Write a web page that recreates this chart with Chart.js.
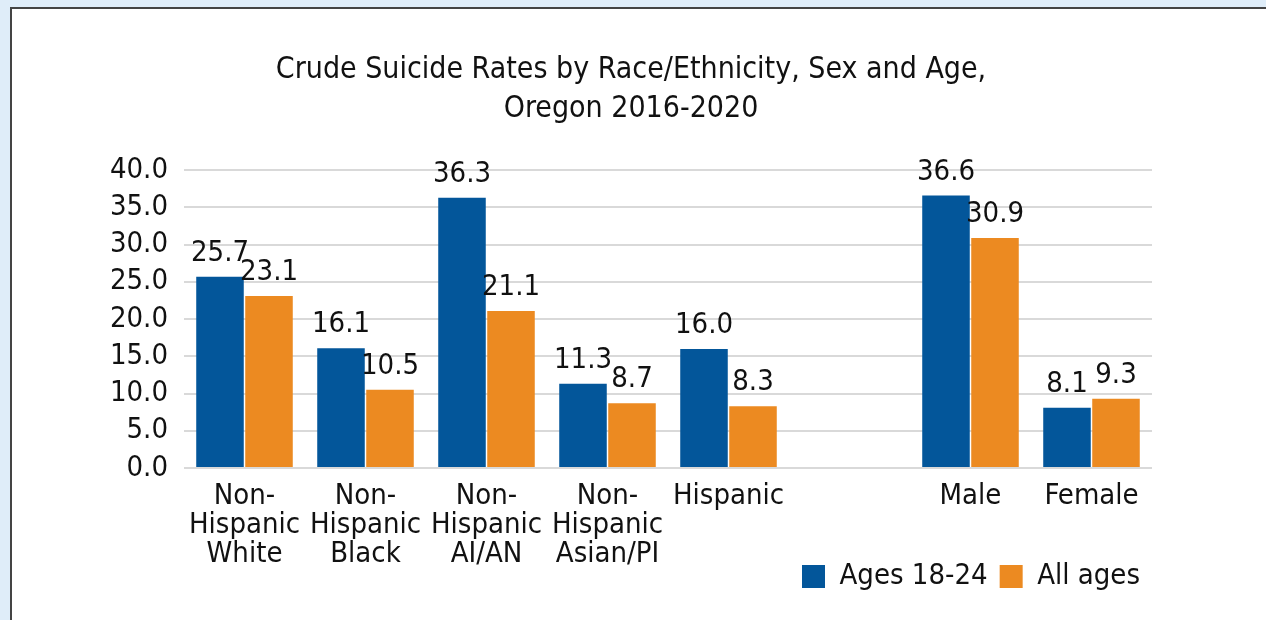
<!DOCTYPE html>
<html>
<head>
<meta charset="utf-8">
<script src="https://cdn.jsdelivr.net/npm/chart.js@4/dist/chart.umd.min.js"></script>
<style>
  body { margin:0; background:#dfedf9; width:1266px; height:620px; overflow:hidden; }
  #panel {
    position:absolute; left:10px; top:7px; width:1256px; height:613px;
    border-left:2px solid #444; border-top:2px solid #444; background:#fff;
  }
  #wrap { position:relative; width:1254px; height:611px; }
</style>
</head>
<body>
<div id="panel"><div id="wrap"><canvas id="rates"></canvas></div></div>
<script>
// ===== DATA =====
const categories = [
  ['Non-', 'Hispanic', 'White'],
  ['Non-', 'Hispanic', 'Black'],
  ['Non-', 'Hispanic', 'AI/AN'],
  ['Non-', 'Hispanic', 'Asian/PI'],
  'Hispanic',
  '',
  'Male',
  'Female'
];
const ages1824 = [25.7, 16.1, 36.3, 11.3, 16.0, null, 36.6, 8.1];
const allAges  = [23.1, 10.5, 21.1, 8.7, 8.3, null, 30.9, 9.3];
const yTicks = [0, 5, 10, 15, 20, 25, 30, 35, 40];

const FONT = "'Liberation Sans Narrow', 'DejaVu Sans Condensed', 'Liberation Sans', sans-serif";

// ===== VALUE LABELS =====
const valueLabels = {
  id:'valueLabels',
  afterDatasetsDraw(chart){
    const ctx = chart.ctx;
    ctx.save();
    ctx.font = '29px ' + FONT;
    ctx.fillStyle = '#111';
    ctx.textAlign = 'center';
    ctx.textBaseline = 'bottom';
    chart.data.datasets.forEach((ds,i)=>{
      chart.getDatasetMeta(i).data.forEach((bar,j)=>{
        const v = ds.data[j];
        if(v === null) return;
        ctx.fillText(v.toFixed(1), bar.x, bar.y - 9);
      });
    });
    ctx.restore();
  }
};

// legend sits beside the 3-line x labels, so lift it up after layout
const liftLegend = {
  id:'liftLegend',
  afterLayout(chart){
    const lg = chart.legend;
    if(!lg) return;
    lg.top -= 19;
    lg.bottom -= 19;
  }
};

new Chart(document.getElementById('rates'), {
  type:'bar',
  data:{
    labels: categories,
    datasets:[
      { label:'Ages 18-24', data:ages1824, backgroundColor:'#03569a',
        categoryPercentage:0.81, barPercentage:0.97 },
      { label:'All ages', data:allAges, backgroundColor:'#ec8a21',
        categoryPercentage:0.81, barPercentage:0.97 }
    ]
  },
  options:{
    responsive:true,
    maintainAspectRatio:false,
    animation:false,
    layout:{ padding:{ left:0, right:16, top:0, bottom:0 } },
    plugins:{
      title:{
        display:true,
        text:['Crude Suicide Rates by Race/Ethnicity, Sex and Age,', 'Oregon 2016-2020'],
        color:'#111',
        font:{ family:FONT, size:30, weight:'normal', lineHeight:1.32 },
        padding:{ top:41, bottom:41 }
      },
      legend:{
        position:'bottom',
        align:'end',
        fullSize:false,
        labels:{
          color:'#111',
          font:{ family:FONT, size:29 },
          boxWidth:23, boxHeight:23,
          padding:12
        }
      },
      tooltip:{ enabled:false }
    },
    scales:{
      x:{
        grid:{ display:false, drawTicks:false },
        border:{ display:false },
        ticks:{
          color:'#111',
          font:{ family:FONT, size:29, lineHeight:1.0 },
          padding:14,
          maxRotation:0, autoSkip:false
        },
        afterFit(s){ s.height = 101; }
      },
      y:{
        min:0, max:40,
        afterBuildTicks(s){ s.ticks = yTicks.map(v=>({ value:v })); },
        grid:{ color:'#d9d9d9', lineWidth:2, drawTicks:false },
        border:{ display:false },
        ticks:{
          color:'#111',
          font:{ family:FONT, size:29 },
          padding:16,
          autoSkip:false,
          callback:v=>v.toFixed(1)
        },
        afterFit(s){ s.width = 172; }
      },
      y2:{
        position:'right',
        display:true,
        grid:{ display:false, drawTicks:false },
        border:{ display:false },
        ticks:{ display:false },
        afterFit(s){ s.width = 98; }
      }
    }
  },
  plugins:[valueLabels, liftLegend]
});
</script>
</body>
</html>
